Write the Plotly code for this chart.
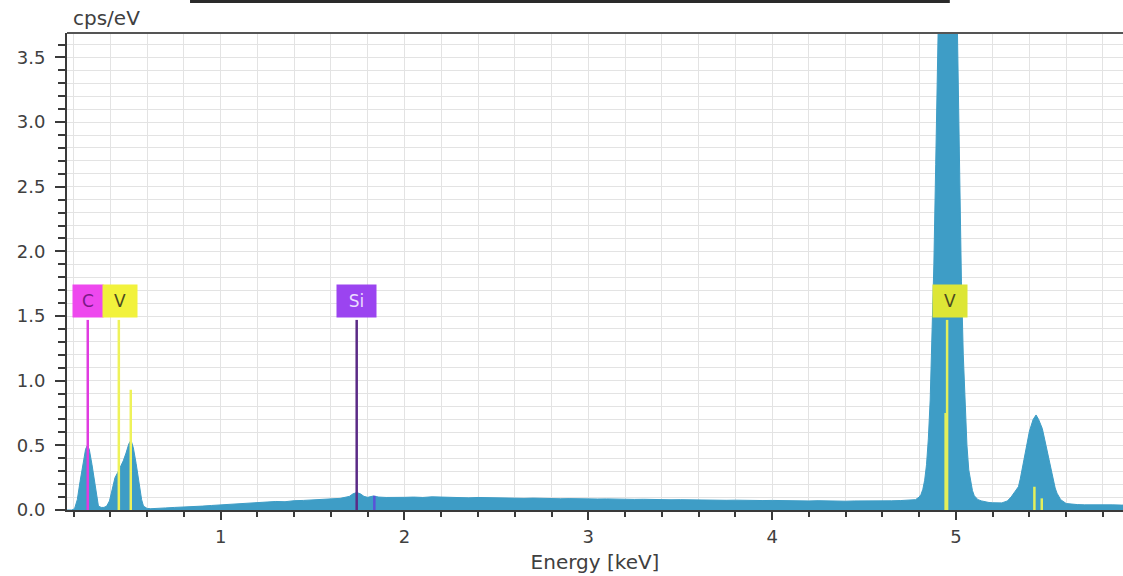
import plotly.graph_objects as go

# EDS spectrum: energy (keV) vs intensity (cps/eV)
energy_kev = [
    0.164, 0.19, 0.205, 0.22, 0.235, 0.25, 0.265, 0.275, 0.285, 0.30, 0.315, 0.325, 0.335,
    0.35, 0.365, 0.38, 0.395, 0.41, 0.425, 0.44, 0.455, 0.47, 0.485, 0.50, 0.512, 0.525,
    0.54, 0.555, 0.57, 0.58, 0.60, 0.62, 0.65, 0.70, 0.75, 0.80, 0.85, 0.90, 0.95, 1.00,
    1.05, 1.10, 1.15, 1.20, 1.25, 1.30, 1.35, 1.40, 1.45, 1.50, 1.55, 1.60, 1.65, 1.70,
    1.72, 1.74, 1.76, 1.78, 1.80, 1.83, 1.86, 1.90, 1.95, 2.00, 2.05, 2.10, 2.15, 2.20,
    2.25, 2.30, 2.35, 2.40, 2.45, 2.50, 2.55, 2.60, 2.65, 2.70, 2.75, 2.80, 2.85, 2.90,
    2.95, 3.00, 3.05, 3.10, 3.15, 3.20, 3.25, 3.30, 3.35, 3.40, 3.45, 3.50, 3.55, 3.60,
    3.65, 3.70, 3.75, 3.80, 3.85, 3.90, 3.95, 4.00, 4.05, 4.10, 4.15, 4.20, 4.25, 4.30,
    4.35, 4.40, 4.45, 4.50, 4.55, 4.60, 4.65, 4.70, 4.74, 4.76, 4.78, 4.80, 4.81, 4.82,
    4.83, 4.84, 4.85, 4.86, 4.87, 4.88, 4.89, 4.90, 4.91, 4.92, 4.93, 4.94, 4.95, 4.96,
    4.97, 4.98, 4.99, 5.00, 5.01, 5.02, 5.03, 5.04, 5.05, 5.06, 5.07, 5.08, 5.09, 5.10,
    5.11, 5.12, 5.14, 5.16, 5.18, 5.20, 5.22, 5.25, 5.28, 5.30, 5.32, 5.34, 5.35, 5.37,
    5.39, 5.40, 5.42, 5.436, 5.45, 5.47, 5.49, 5.51, 5.53, 5.54, 5.55, 5.57, 5.60, 5.63,
    5.66, 5.70, 5.75, 5.80, 5.85, 5.90, 5.93,
]
intensity_cps = [
    0.0, 0.0, 0.01, 0.08, 0.22, 0.36, 0.47, 0.50, 0.47, 0.35, 0.21, 0.09, 0.03,
    0.02, 0.02, 0.03, 0.07, 0.16, 0.25, 0.29, 0.33, 0.38, 0.44, 0.51, 0.54, 0.48,
    0.36, 0.22, 0.08, 0.03, 0.012, 0.010, 0.014, 0.016, 0.020, 0.022, 0.026, 0.030, 0.035, 0.040,
    0.042, 0.050, 0.052, 0.058, 0.060, 0.066, 0.064, 0.072, 0.074, 0.078, 0.082, 0.086, 0.090, 0.105,
    0.125, 0.135, 0.125, 0.105, 0.098, 0.108, 0.100, 0.097, 0.100, 0.098, 0.100, 0.097, 0.102, 0.100,
    0.097, 0.099, 0.094, 0.097, 0.095, 0.093, 0.094, 0.092, 0.090, 0.092, 0.089, 0.090, 0.087, 0.088,
    0.086, 0.087, 0.085, 0.086, 0.083, 0.084, 0.082, 0.083, 0.080, 0.081, 0.079, 0.080, 0.078, 0.077,
    0.078, 0.076, 0.075, 0.076, 0.074, 0.075, 0.073, 0.074, 0.072, 0.073, 0.071, 0.070, 0.072, 0.069,
    0.070, 0.068, 0.070, 0.069, 0.072, 0.070, 0.071, 0.073, 0.074, 0.076, 0.080, 0.10, 0.12, 0.16,
    0.23, 0.35, 0.55, 0.85, 1.30, 1.90, 2.67, 3.57, 4.55, 5.52, 6.38, 7.02, 7.34, 7.30,
    6.91, 6.22, 5.33, 4.35, 3.38, 2.50, 1.77, 1.20, 0.78, 0.50, 0.31, 0.21, 0.15, 0.11,
    0.09, 0.08, 0.07, 0.062, 0.058, 0.056, 0.055, 0.055, 0.07, 0.10, 0.14, 0.18, 0.24, 0.38,
    0.53, 0.61, 0.70, 0.735, 0.70, 0.63, 0.50, 0.37, 0.22, 0.17, 0.13, 0.08, 0.05, 0.045,
    0.042, 0.040, 0.041, 0.039, 0.040, 0.038, 0.038,
]

# Element line markers (energy keV, marker height cps/eV, colour)
marker_energy = [0.277, 0.446, 0.511, 1.740, 1.836, 4.944, 4.952, 5.427, 5.467]
marker_height = [1.47, 1.47, 0.93, 1.47, 0.11, 0.75, 1.47, 0.18, 0.09]
marker_color = ["#e03ce0", "#eef25a", "#eef25a", "#5a2a86", "#5a52d8",
                "#e4f05a", "#e4f05a", "#e4f05a", "#e4f05a"]

# Element labels
label_text = ["C", "V", "Si", "V"]
label_energy = [0.277, 0.451, 1.739, 4.967]
label_width_px = [30, 34, 39, 34]
label_bg = ["#ee48ee", "#f2f23c", "#9b44f0", "#dde636"]
label_fg = ["#7a1a86", "#4a4a20", "#eadcff", "#4a4a20"]
label_level = 1.616

x_range = [0.164, 5.909]
y_range = [0.0, 3.689]
y_ticks = [0.0, 0.5, 1.0, 1.5, 2.0, 2.5, 3.0, 3.5]
x_ticks = [1, 2, 3, 4, 5]

SPEC = "#3e9dc6"
AXIS = "#3a3a3a"
GRID = "#e3e3e3"
TEXT = "#404040"
FONT = "DejaVu Sans"

fig = go.Figure()

fig.add_trace(go.Scatter(
    x=energy_kev, y=intensity_cps, mode="lines",
    line=dict(color=SPEC, width=1), fill="tozeroy", fillcolor=SPEC,
    hoverinfo="skip", showlegend=False,
))

for e, h, c in zip(marker_energy, marker_height, marker_color):
    fig.add_trace(go.Scatter(
        x=[e, e], y=[0, h], mode="lines",
        line=dict(color=c, width=2.5), hoverinfo="skip", showlegend=False,
    ))

for t, e, w, bg, fg in zip(label_text, label_energy, label_width_px, label_bg, label_fg):
    fig.add_annotation(
        x=e, y=label_level, xref="x", yref="y", text=t, showarrow=False,
        width=w - 2, height=30, bgcolor=bg, borderpad=1,
        font=dict(family=FONT, size=17, color=fg), align="center", valign="middle",
    )

# axis unit label above the plot
fig.add_annotation(
    xref="paper", yref="paper", x=0, y=1, xanchor="left", yanchor="bottom",
    xshift=4, yshift=1, text="cps/eV", showarrow=False,
    font=dict(family=FONT, size=20, color=TEXT),
)

# top frame line and clipped heading rule
fig.add_shape(type="line", xref="paper", yref="paper", x0=0, x1=1, y0=1, y1=1,
              line=dict(color="#555555", width=2))
fig.add_shape(type="rect", xref="paper", yref="paper",
              x0=0.1165, x1=0.836, y0=1 + 30 / 477, y1=1 + 34 / 477,
              line=dict(width=0), fillcolor="#2a2a2a")

fig.update_xaxes(
    range=x_range, tickvals=x_ticks, ticktext=[str(v) for v in x_ticks],
    ticks="outside", ticklen=8, tickwidth=2, tickcolor=AXIS, ticklabelstandoff=1,
    showline=True, linecolor=AXIS, linewidth=2,
    showgrid=True, gridcolor=GRID, gridwidth=1, zeroline=False,
    minor=dict(dtick=0.2, tick0=0, ticks="outside", ticklen=5, tickwidth=2,
               tickcolor=AXIS, showgrid=True, gridcolor=GRID, gridwidth=1),
    tickfont=dict(family=FONT, size=18, color=TEXT),
    title=dict(text="Energy [keV]", font=dict(family=FONT, size=20, color=TEXT),
               standoff=9),
)
fig.update_yaxes(
    range=y_range, tickvals=y_ticks, ticktext=[f"{v:.1f}" for v in y_ticks],
    ticks="outside", ticklen=10, tickwidth=2, tickcolor=AXIS, ticklabelstandoff=6,
    showline=True, linecolor=AXIS, linewidth=2,
    showgrid=True, gridcolor=GRID, gridwidth=1, zeroline=False,
    minor=dict(dtick=0.1, tick0=0, ticks="outside", ticklen=7, tickwidth=2,
               tickcolor=AXIS, showgrid=True, gridcolor=GRID, gridwidth=1),
    tickfont=dict(family=FONT, size=18, color=TEXT),
)

fig.update_layout(
    width=1123, height=576,
    margin=dict(l=67, r=0, t=33, b=66),
    paper_bgcolor="white", plot_bgcolor="white",
    showlegend=False,
)

fig.write_html("out.html")
